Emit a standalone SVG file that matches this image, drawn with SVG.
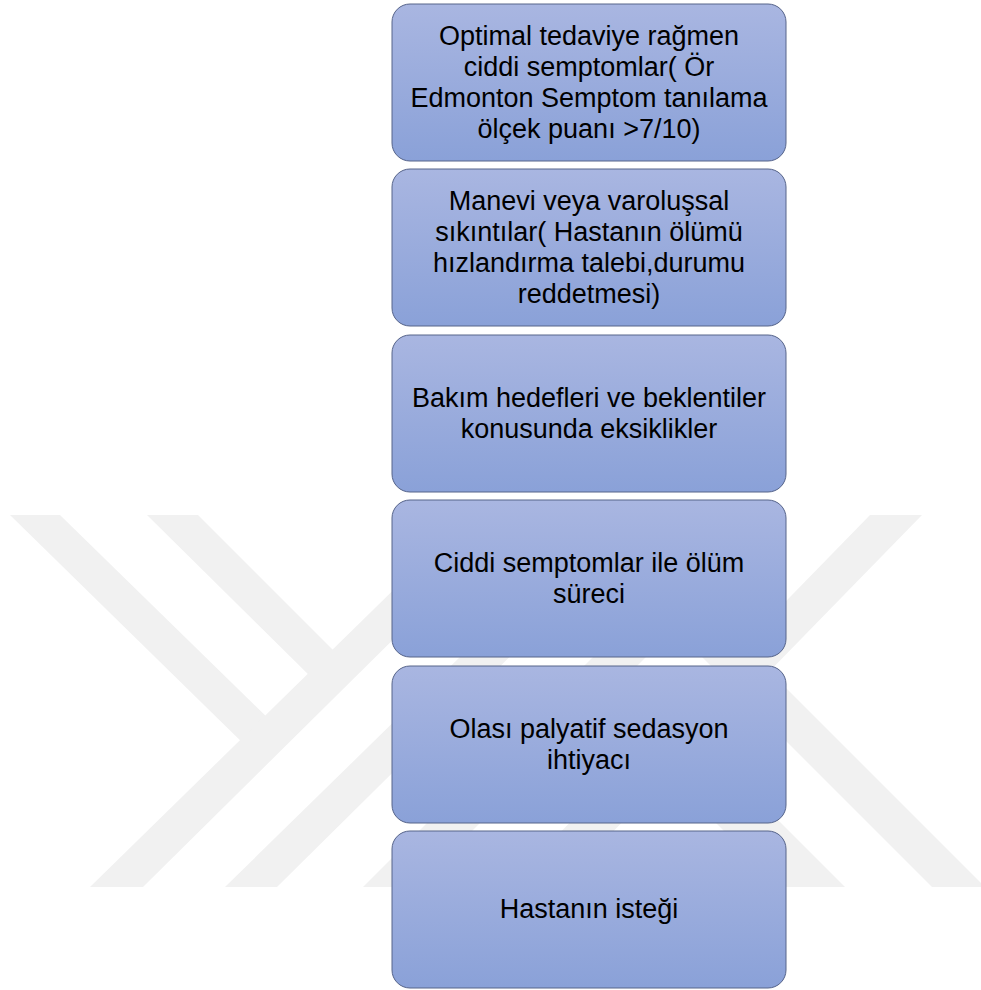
<svg xmlns="http://www.w3.org/2000/svg" width="981" height="990" viewBox="0 0 981 990">
  <defs>
    <linearGradient id="boxFill" x1="0" y1="0" x2="0" y2="1">
      <stop offset="0" stop-color="#a9b6e1"/>
      <stop offset="1" stop-color="#8aa1d8"/>
    </linearGradient>
    <style>
      .wm { fill: #f1f1f1; stroke: none; }
      .box { fill: url(#boxFill); stroke: #56648a; stroke-width: 1; }
      .lbl { font-family: "Liberation Sans", Arial, sans-serif; font-size: 27px; fill: #000; text-anchor: middle; }
    </style>
  </defs>
  <rect x="0" y="0" width="981" height="990" fill="#ffffff"/>

  <g id="watermark">
    <polygon class="wm" points="10,515 60,515 275,725 252,752"/>
    <polygon class="wm" points="147,515 198,515 345,662 320,686"/>
    <polygon class="wm" points="90,887 143,887 519,515 470,515"/>
    <polygon class="wm" points="225,887 277,887 653,515 605,515"/>
    <polygon class="wm" points="363,887 416,887 703,600 650,600"/>
    <polygon class="wm" points="870,515 922,515 559,887 507,887"/>
    <polygon class="wm" points="560,515 613,515 985,887 932,887"/>
    <polygon class="wm" points="780,887 845,887 625,667 560,667"/>
  </g>

  <g id="connectors"></g>

  <g id="node1">
    <rect class="box" x="392" y="4" width="394" height="157" rx="18" ry="18"/>
    <text class="lbl" x="589" y="44.5">Optimal tedaviye rağmen</text>
    <text class="lbl" x="589" y="75.5">ciddi semptomlar( Ör</text>
    <text class="lbl" x="589" y="106.5">Edmonton Semptom tanılama</text>
    <text class="lbl" x="589" y="137.5">ölçek puanı &gt;7/10)</text>
  </g>

  <g id="node2">
    <rect class="box" x="392" y="169" width="394" height="157" rx="18" ry="18"/>
    <text class="lbl" x="589" y="209.5">Manevi veya varoluşsal</text>
    <text class="lbl" x="589" y="240.5">sıkıntılar( Hastanın ölümü</text>
    <text class="lbl" x="589" y="271.5">hızlandırma talebi,durumu</text>
    <text class="lbl" x="589" y="302.5">reddetmesi)</text>
  </g>

  <g id="node3">
    <rect class="box" x="392" y="335" width="394" height="157" rx="18" ry="18"/>
    <text class="lbl" x="589" y="406.5">Bakım hedefleri ve beklentiler</text>
    <text class="lbl" x="589" y="437.5">konusunda eksiklikler</text>
  </g>

  <g id="node4">
    <rect class="box" x="392" y="500" width="394" height="157" rx="18" ry="18"/>
    <text class="lbl" x="589" y="571.5">Ciddi semptomlar ile ölüm</text>
    <text class="lbl" x="589" y="602.5">süreci</text>
  </g>

  <g id="node5">
    <rect class="box" x="392" y="666" width="394" height="157" rx="18" ry="18"/>
    <text class="lbl" x="589" y="737.5">Olası palyatif sedasyon</text>
    <text class="lbl" x="589" y="768.5">ihtiyacı</text>
  </g>

  <g id="node6">
    <rect class="box" x="392" y="831" width="394" height="157" rx="18" ry="18"/>
    <text class="lbl" x="589" y="918">Hastanın isteği</text>
  </g>
</svg>
